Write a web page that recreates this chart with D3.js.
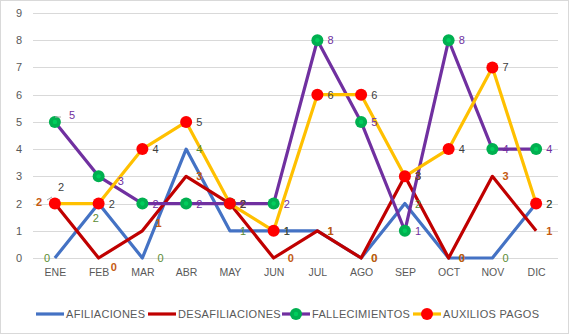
<!DOCTYPE html>
<html>
<head>
<meta charset="utf-8">
<script src="https://cdn.jsdelivr.net/npm/d3@7/dist/d3.min.js"></script>
<style>
  html, body { margin: 0; padding: 0; background: #fff; }
  svg { display: block; }
  text { font-family: "Liberation Sans", "DejaVu Sans", sans-serif; }
</style>
</head>
<body>
<svg id="chart" width="569" height="334"></svg>
<script>
// Monthly counts per concept
const months = ["ENE","FEB","MAR","ABR","MAY","JUN","JUL","AGO","SEP","OCT","NOV","DIC"];
const afiliaciones    = [0, 2, 0, 4, 1, 1, 1, 0, 2, 0, 0, 2];
const desafiliaciones = [2, 0, 1, 3, 2, 0, 1, 0, 3, 0, 3, 1];
const fallecimientos  = [5, 3, 2, 2, 2, 2, 8, 5, 1, 8, 4, 4];
const auxiliosPagos   = [2, 2, 4, 5, 2, 1, 6, 6, 3, 4, 7, 2];
const yTicks = [0,1,2,3,4,5,6,7,8,9];

const series = [
  { name: "AFILIACIONES",    values: afiliaciones,    line: "#4472C4", marker: null,      label: "#5B8C32" },
  { name: "DESAFILIACIONES", values: desafiliaciones, line: "#C00000", marker: null,      label: "#C55A11", bold: true },
  { name: "FALLECIMIENTOS",  values: fallecimientos,  line: "#7030A0", marker: "#00B050", label: "#7030A0" },
  { name: "AUXILIOS PAGOS",  values: auxiliosPagos,   line: "#FFC000", marker: "#FF0000", label: "#404040" }
];

// label placement exceptions (series index, month index) -> [dx, dy]
const labelShift = {
  "0-0": [-11, 0], "0-1": [-6, 14], "0-2": [15, 0],
  "1-0": [-19, -2], "1-1": [12, 9], "1-2": [13, -8], "1-5": [14, 0],
  "2-0": [14, -7], "2-1": [19, 5],
  "3-0": [3, -17]
};

const svg = d3.select("#chart");
const W = 569, H = 334;

// outer frame
svg.append("rect").attr("x", 0.5).attr("y", 0.5).attr("width", W - 1).attr("height", H - 1)
  .attr("fill", "#fff").attr("stroke", "#D9D9D9");

const x = d3.scalePoint().domain(months).range([33, 558]).padding(0.5);
const y = d3.scaleLinear().domain([0, 9]).range([258, 13]);

// gridlines
svg.append("g").selectAll("line").data(yTicks).join("line")
  .attr("x1", 33).attr("x2", 558)
  .attr("y1", d => Math.round(y(d)) + 0.5).attr("y2", d => Math.round(y(d)) + 0.5)
  .attr("stroke", "#D9D9D9").attr("stroke-width", 1);

// y axis labels
const yAxis = svg.append("g").attr("transform", "translate(33,0)")
  .call(d3.axisLeft(y).tickValues(yTicks).tickSize(0).tickPadding(11).tickFormat(d3.format("d")));
yAxis.select(".domain").remove();
yAxis.selectAll("text").attr("fill", "#595959").style("font-size", "11px");

// x axis labels
const xAxis = svg.append("g").attr("transform", "translate(0,258)")
  .call(d3.axisBottom(x).tickSize(0).tickPadding(11));
xAxis.select(".domain").remove();
xAxis.selectAll("text").attr("fill", "#595959").style("font-size", "10.5px");

const lineGen = (vals) => d3.line().x((d, i) => x(months[i])).y(d => y(d))(vals);

// lines
series.forEach(s => {
  svg.append("path").attr("d", lineGen(s.values))
    .attr("fill", "none").attr("stroke", s.line).attr("stroke-width", 3.2)
    .attr("stroke-linejoin", "round");
});

// markers
function drawMarker(g, cx, cy, color) {
  g.append("circle").attr("cx", cx).attr("cy", cy).attr("r", 6).attr("fill", color);
  g.append("circle").attr("cx", cx).attr("cy", cy).attr("r", 2.2)
    .attr("fill", d3.color(color).brighter(0.6)).attr("opacity", 0.7);
}
series.forEach(s => {
  if (!s.marker) return;
  const g = svg.append("g");
  s.values.forEach((v, i) => drawMarker(g, x(months[i]), y(v), s.marker));
});

// leader line for the January AUXILIOS label
svg.append("line").attr("x1", 47).attr("y1", 200).attr("x2", 52).attr("y2", 197)
  .attr("stroke", "#A6A6A6").attr("stroke-width", 1);
svg.append("line").attr("x1", 55).attr("y1", 117).attr("x2", 61).attr("y2", 117)
  .attr("stroke", "#A6A6A6").attr("stroke-width", 1);

// data labels
series.forEach((s, si) => {
  const g = svg.append("g");
  s.values.forEach((v, i) => {
    const sh = labelShift[si + "-" + i] || [10, 0];
    g.append("text")
      .attr("x", x(months[i]) + sh[0])
      .attr("y", y(v) + sh[1])
      .attr("dy", "0.36em")
      .attr("fill", s.label)
      .style("font-size", "11px")
      .style("font-weight", s.bold ? "bold" : "normal")
      .text(v);
  });
});

// legend
const legend = svg.append("g");
const legendItems = [
  { s: series[0], x: 36 },
  { s: series[1], x: 148 },
  { s: series[2], x: 282 },
  { s: series[3], x: 413 }
];
legendItems.forEach(it => {
  const ly = 314;
  legend.append("line").attr("x1", it.x).attr("x2", it.x + 28).attr("y1", ly).attr("y2", ly)
    .attr("stroke", it.s.line).attr("stroke-width", 3.2);
  if (it.s.marker) drawMarker(legend, it.x + 14, ly, it.s.marker);
  legend.append("text").attr("x", it.x + 30).attr("y", ly).attr("dy", "0.36em")
    .attr("fill", "#595959").style("font-size", "11px").style("letter-spacing", "0.3px")
    .text(it.s.name);
});
</script>
</body>
</html>
